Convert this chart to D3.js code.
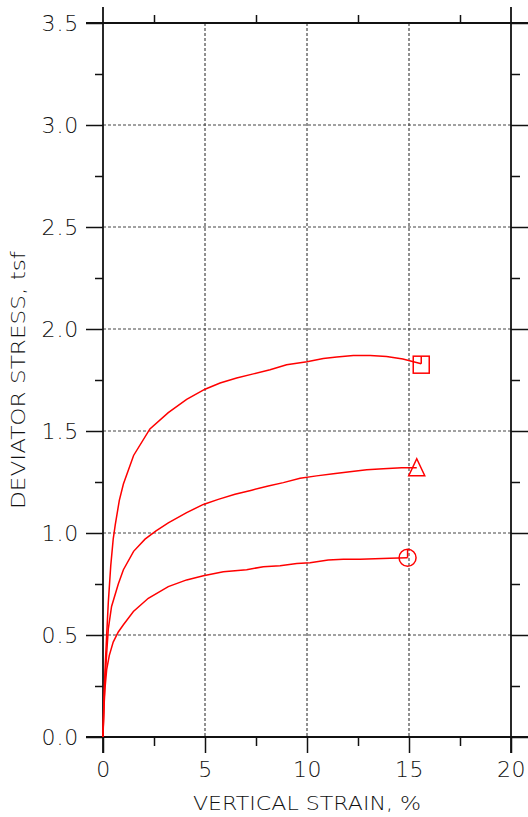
<!DOCTYPE html>
<html>
<head>
<meta charset="utf-8">
<script src="https://cdn.jsdelivr.net/npm/d3@7"></script>
<style>
html,body{margin:0;padding:0;background:#fff;}
svg{display:block;}
text{font-family:"DejaVu Sans",sans-serif;font-weight:200;fill:#111;}
</style>
</head>
<body>
<svg id="chart" width="528" height="817"></svg>
<script>
// ---- data ----
const xTicks = [0, 5, 10, 15, 20];
const yTicks = [0.0, 0.5, 1.0, 1.5, 2.0, 2.5, 3.0, 3.5];
const xLabel = "VERTICAL STRAIN, %";
const yLabel = "DEVIATOR STRESS, tsf";

const strainHigh = [0, 0.05, 0.1, 0.18, 0.26, 0.38, 0.5, 0.6, 0.8, 1.0, 1.5, 2.3, 3.2, 4.1, 5.0, 5.74, 6.55, 7.37, 8.19, 9.0, 10.0, 10.8, 11.46, 12.27, 13.1, 13.9, 14.7, 15.6];
const stressHigh = [0, 0.2, 0.33, 0.5, 0.66, 0.84, 0.97, 1.04, 1.16, 1.24, 1.38, 1.51, 1.59, 1.655, 1.705, 1.735, 1.76, 1.78, 1.80, 1.825, 1.84, 1.855, 1.863, 1.87, 1.87, 1.865, 1.853, 1.83];

const strainMid = [0, 0.04, 0.1, 0.18, 0.26, 0.42, 0.75, 1.0, 1.5, 2.06, 2.6, 3.2, 4.1, 4.92, 5.65, 6.47, 7.29, 8.1, 8.84, 9.66, 10.47, 11.29, 12.1, 12.93, 13.74, 14.64, 15.38];
const stressMid = [0, 0.15, 0.28, 0.41, 0.53, 0.64, 0.75, 0.82, 0.91, 0.97, 1.01, 1.05, 1.10, 1.14, 1.165, 1.19, 1.21, 1.23, 1.247, 1.268, 1.28, 1.29, 1.30, 1.31, 1.315, 1.32, 1.32];

const strainLow = [0, 0.05, 0.1, 0.18, 0.31, 0.5, 0.75, 1.0, 1.49, 2.22, 3.2, 4.1, 4.92, 5.9, 7.04, 7.86, 8.68, 9.5, 10.15, 11.04, 11.78, 12.6, 13.33, 14.07, 14.93];
const stressLow = [0, 0.15, 0.24, 0.33, 0.40, 0.465, 0.515, 0.55, 0.615, 0.68, 0.737, 0.77, 0.79, 0.81, 0.82, 0.835, 0.84, 0.85, 0.854, 0.868, 0.871, 0.871, 0.874, 0.876, 0.879];

const series = [
  {x: strainHigh, y: stressHigh, marker: "square"},
  {x: strainMid, y: stressMid, marker: "triangle"},
  {x: strainLow, y: stressLow, marker: "circle"}
];

// ---- chart ----
const svg = d3.select("#chart");
const L = 103, R = 511, T = 23, B = 737;
const x = d3.scaleLinear().domain([0, 20]).range([L, R]);
const y = d3.scaleLinear().domain([0, 3.5]).range([B, T]);
const red = "#ff0000";
const axisColor = "#111";

// grid
const g = svg.append("g");
g.selectAll("line.vg").data(xTicks.filter(d => d > 0 && d < 20)).join("line")
  .attr("x1", d => x(d)).attr("x2", d => x(d)).attr("y1", T).attr("y2", B)
  .attr("stroke", "#222").attr("stroke-width", 1).attr("stroke-dasharray", "3,2");
g.selectAll("line.hg").data(yTicks.filter(d => d > 0 && d < 3.5)).join("line")
  .attr("x1", L).attr("x2", R).attr("y1", d => y(d)).attr("y2", d => y(d))
  .attr("stroke", "#444").attr("stroke-width", 1).attr("stroke-dasharray", "3,2");

// minor ticks
const xMinor = d3.range(2.5, 20, 5);
const yMinor = d3.range(0.25, 3.5, 0.5);

const leftAxis = d3.axisLeft(y).tickValues(yTicks).tickSize(17).tickPadding(6).tickFormat(d3.format(".1f"));
const rightAxis = d3.axisRight(y).tickValues(yTicks).tickSize(17).tickFormat("");
const bottomAxis = d3.axisBottom(x).tickValues(xTicks).tickSize(16).tickPadding(8).tickFormat(d3.format("d"));
const topAxis = d3.axisTop(x).tickValues(xMinor).tickSize(8).tickFormat("");

function styleAxis(sel) {
  sel.select(".domain").remove();
  sel.selectAll(".tick line").attr("stroke", axisColor).attr("stroke-width", 1.5);
}

const gl = svg.append("g").attr("transform", `translate(${L},0)`).call(leftAxis).call(styleAxis);
gl.selectAll(".tick text").attr("font-size", 22).attr("font-family", "DejaVu Sans").attr("font-weight", 200).attr("fill", "#111").attr("dx", -1).attr("letter-spacing", 0.8);
svg.append("g").attr("transform", `translate(${L},0)`).call(d3.axisLeft(y).tickValues(yMinor).tickSize(8).tickFormat("")).call(styleAxis);

svg.append("g").attr("transform", `translate(${R},0)`).call(rightAxis).call(styleAxis);
svg.append("g").attr("transform", `translate(${R},0)`).call(d3.axisRight(y).tickValues(yMinor).tickSize(9).tickFormat("")).call(styleAxis);

const gb = svg.append("g").attr("transform", `translate(0,${B})`).call(bottomAxis).call(styleAxis);
gb.selectAll(".tick text").attr("font-size", 22).attr("font-family", "DejaVu Sans").attr("font-weight", 200).attr("fill", "#111").attr("letter-spacing", 0.5);
svg.append("g").attr("transform", `translate(0,${B})`).call(d3.axisBottom(x).tickValues(xMinor).tickSize(9).tickFormat("")).call(styleAxis);
svg.append("g").attr("transform", `translate(0,${T})`).call(topAxis).call(styleAxis);

// frame lines (extended)
svg.append("line").attr("x1", 86).attr("x2", 528).attr("y1", T).attr("y2", T).attr("stroke", axisColor).attr("stroke-width", 1.8);
svg.append("line").attr("x1", 86).attr("x2", 528).attr("y1", B).attr("y2", B).attr("stroke", axisColor).attr("stroke-width", 1.8);
svg.append("line").attr("x1", L).attr("x2", L).attr("y1", 7).attr("y2", 753).attr("stroke", axisColor).attr("stroke-width", 1.8);
svg.append("line").attr("x1", R).attr("x2", R).attr("y1", 7).attr("y2", 753).attr("stroke", axisColor).attr("stroke-width", 1.8);

// axis titles
svg.append("text").attr("x", 307).attr("y", 810).attr("text-anchor", "middle")
  .attr("font-size", 20).attr("textLength", 228).attr("lengthAdjust", "spacingAndGlyphs").text(xLabel);
svg.append("text").attr("transform", "translate(25,380) rotate(-90)").attr("text-anchor", "middle")
  .attr("font-size", 20).attr("textLength", 258).attr("lengthAdjust", "spacingAndGlyphs").text(yLabel);

// curves
const line = d3.line().x(d => x(d[0])).y(d => y(d[1]));
const cg = svg.append("g");
series.forEach(s => {
  const pts = s.x.map((v, i) => [v, s.y[i]]);
  cg.append("path").attr("d", line(pts)).attr("fill", "none").attr("stroke", red).attr("stroke-width", 1.5);
  const last = pts[pts.length - 1];
  const cx = x(last[0]), cy = y(last[1]);
  if (s.marker === "square") {
    cg.append("rect").attr("x", cx - 8).attr("y", cy - 7.5).attr("width", 16).attr("height", 17)
      .attr("fill", "none").attr("stroke", red).attr("stroke-width", 1.5);
    cg.append("line").attr("x1", cx).attr("x2", cx).attr("y1", cy).attr("y2", cy - 7.5).attr("stroke", red).attr("stroke-width", 1.5);
  } else if (s.marker === "triangle") {
    cg.append("path").attr("d", `M${cx},${cy - 9}L${cx + 8},${cy + 8}L${cx - 8},${cy + 8}Z`)
      .attr("fill", "none").attr("stroke", red).attr("stroke-width", 1.5);
  } else {
    cg.append("circle").attr("cx", cx).attr("cy", cy).attr("r", 8.5)
      .attr("fill", "none").attr("stroke", red).attr("stroke-width", 1.5);
    cg.append("line").attr("x1", cx).attr("x2", cx).attr("y1", cy).attr("y2", cy - 8.5).attr("stroke", red).attr("stroke-width", 1.5);
  }
});
</script>
</body>
</html>
